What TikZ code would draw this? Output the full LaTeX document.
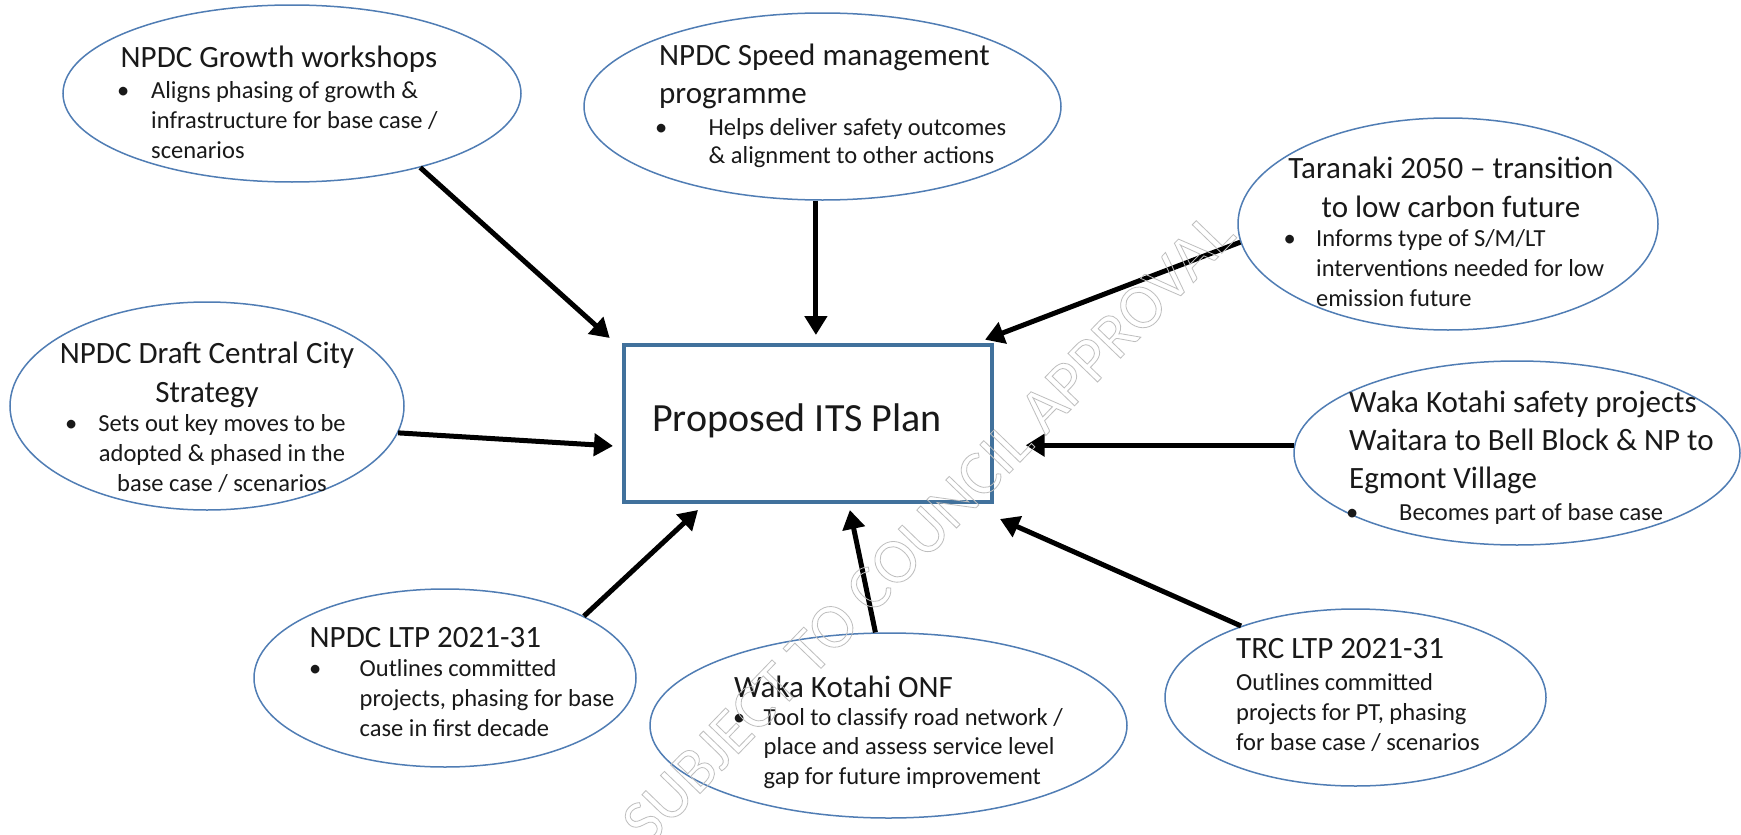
\documentclass[tikz,border=0pt]{standalone}
\usepackage{fontspec}
\setmainfont{Carlito}
\usetikzlibrary{shapes.geometric,arrows.meta,calc}
\definecolor{ovalblue}{RGB}{80,125,180}
\definecolor{boxblue}{RGB}{65,113,156}
\definecolor{ink}{RGB}{25,25,25}
\definecolor{wmgray}{RGB}{190,190,190}
\newcommand\hollowtext[1]{\special{pdf:code 1 Tr 0.8 w}#1\special{pdf:code 0 Tr}}
\begin{document}
\begin{tikzpicture}[x=1pt,y=-1pt,
  oval/.style={ellipse, draw=ovalblue, fill=white, line width=1.5pt, inner sep=0pt},
  ttl/.style={font=\fontsize{31}{37}\selectfont, inner sep=0pt, text=ink},
  bdy/.style={font=\fontsize{24.5}{30}\selectfont, inner sep=0pt, text=ink},
  arr/.style={-{Triangle[length=19pt,width=22pt]}, line width=5pt, black}]
\useasboundingbox (0,0) rectangle (1741,835);
\fill[white] (0,0) rectangle (1741,835);

% ellipses
\node[oval, minimum width=458pt, minimum height=177pt] (g) at (292,93.5) {};
\node[oval, minimum width=477pt, minimum height=187pt] (s) at (822.5,106.5) {};
\node[oval, minimum width=420pt, minimum height=212pt] (t) at (1448,224) {};
\node[oval, minimum width=394pt, minimum height=208pt] (d) at (207,406) {};
\node[oval, minimum width=446pt, minimum height=184pt] (w) at (1517,453) {};
\node[oval, minimum width=382pt, minimum height=178pt] (l) at (445,678) {};
\node[oval, minimum width=477pt, minimum height=185pt] (o) at (888.5,725.5) {};
\node[oval, minimum width=381pt, minimum height=177pt] (r) at (1355.5,697.5) {};

% central box
\node[draw=boxblue, fill=white, line width=4pt, minimum width=367.7pt, minimum height=156.7pt, inner sep=0pt] (p) at (807.85,423.35) {};
\node[anchor=base west, font=\fontsize{40}{48}\selectfont, inner sep=0pt, text=ink] (pT) at (652,431) {Proposed ITS Plan};

% Growth
\node[ttl,anchor=base west] (gT) at (120.5,67) {NPDC Growth workshops};
\node[bdy,anchor=base west] (gb) at (117,98) {•};
\node[bdy,anchor=base west] (g1) at (151,98) {Aligns phasing of growth \&};
\node[bdy,anchor=base west] (g2) at (151,128) {infrastructure for base case /};
\node[bdy,anchor=base west] (g3) at (151,158) {scenarios};

% Speed
\node[ttl,anchor=base west] (sT1) at (659,65) {NPDC Speed management};
\node[ttl,anchor=base west] (sT2) at (659,103) {programme};
\node[bdy,anchor=base west] (sb) at (655,135) {•};
\node[bdy,anchor=base west] (s1) at (708.5,135) {Helps deliver safety outcomes};
\node[bdy,anchor=base west] (s2) at (708.5,163) {\& alignment to other actions};

% Taranaki
\node[ttl,anchor=base] (tT1) at (1451,178) {Taranaki 2050 – transition};
\node[ttl,anchor=base] (tT2) at (1451,217) {to low carbon future};
\node[bdy,anchor=base west] (tb) at (1283.5,246) {•};
\node[bdy,anchor=base west] (t1) at (1316,246) {Informs type of S/M/LT};
\node[bdy,anchor=base west] (t2) at (1316,276) {interventions needed for low};
\node[bdy,anchor=base west] (t3) at (1316,306) {emission future};

% Draft
\node[ttl,anchor=base] (dT1) at (207,363) {NPDC Draft Central City};
\node[ttl,anchor=base] (dT2) at (207,402) {Strategy};
\node[bdy,anchor=base west] (db) at (65,431) {•};
\node[bdy,anchor=base] (d1) at (222,431) {Sets out key moves to be};
\node[bdy,anchor=base] (d2) at (222,461) {adopted \& phased in the};
\node[bdy,anchor=base] (d3) at (222,491) {base case / scenarios};

% Safety
\node[ttl,anchor=base west] (wT1) at (1349,412) {Waka Kotahi safety projects};
\node[ttl,anchor=base west] (wT2) at (1349,450) {Waitara to Bell Block \& NP to};
\node[ttl,anchor=base west] (wT3) at (1349,488) {Egmont Village};
\node[bdy,anchor=base west] (wb) at (1346,520) {•};
\node[bdy,anchor=base west] (w1) at (1399,520) {Becomes part of base case};

% NPDC LTP
\node[ttl,anchor=base west] (lT) at (309.5,647) {NPDC LTP 2021-31};
\node[bdy,anchor=base west] (lb) at (309,676) {•};
\node[bdy,anchor=base west] (l1) at (359.5,676) {Outlines committed};
\node[bdy,anchor=base west] (l2) at (359.5,706) {projects, phasing for base};
\node[bdy,anchor=base west] (l3) at (359.5,736) {case in first decade};

% ONF
\node[ttl,anchor=base west] (oT) at (734,697) {Waka Kotahi ONF};
\node[bdy,anchor=base west] (ob) at (733,725) {•};
\node[bdy,anchor=base west] (o1) at (763.5,725) {Tool to classify road network /};
\node[bdy,anchor=base west] (o2) at (763.5,754.5) {place and assess service level};
\node[bdy,anchor=base west] (o3) at (763.5,784) {gap for future improvement};

% TRC
\node[ttl,anchor=base west] (rT) at (1236,658) {TRC LTP 2021-31};
\node[bdy,anchor=base west] (r1) at (1236,690) {Outlines committed};
\node[bdy,anchor=base west] (r2) at (1236,720) {projects for PT, phasing};
\node[bdy,anchor=base west] (r3) at (1236,750) {for base case / scenarios};

% arrow tips
\coordinate (tipG) at ($(p.north west)+(-12.3,-5)$);
\coordinate (tipT) at ($(p.north east)+(-8.7,-3.3)$);
\coordinate (tipD) at ($(p.west)+(-9,22.6)$);
\coordinate (tipW) at ($(p.east)+(32,23)$);
\coordinate (tipL) at ($(p.south west)+(76,6.3)$);
\coordinate (tipO) at ($(p.south)+(42,6.3)$);
\coordinate (tipR) at ($(p.south east)+(6.3,15.3)$);

\draw[arr] (g.-30.3) -- (tipG);
\draw[arr] (s.-94) -- ($(s.-94 |- p.north)+(0,-8)$);
\draw[arr] (t.185) -- (tipT);
\draw[arr] (d.-8.8) -- (tipD);
\draw[arr] (w.178.5) -- (w.178.5 -| tipW);
\draw[arr] (l.24.3) -- (tipL);
\draw[arr] (o.98.2) -- (tipO);
\draw[arr] (r.148.8) -- (tipR);

% watermark
\node[rotate=46, text=wmgray, font=\fontsize{64}{68}\selectfont, inner sep=0pt] (wm) at (928,528) {\hollowtext{SUBJECT TO COUNCIL APPROVAL}};
\end{tikzpicture}
\end{document}
